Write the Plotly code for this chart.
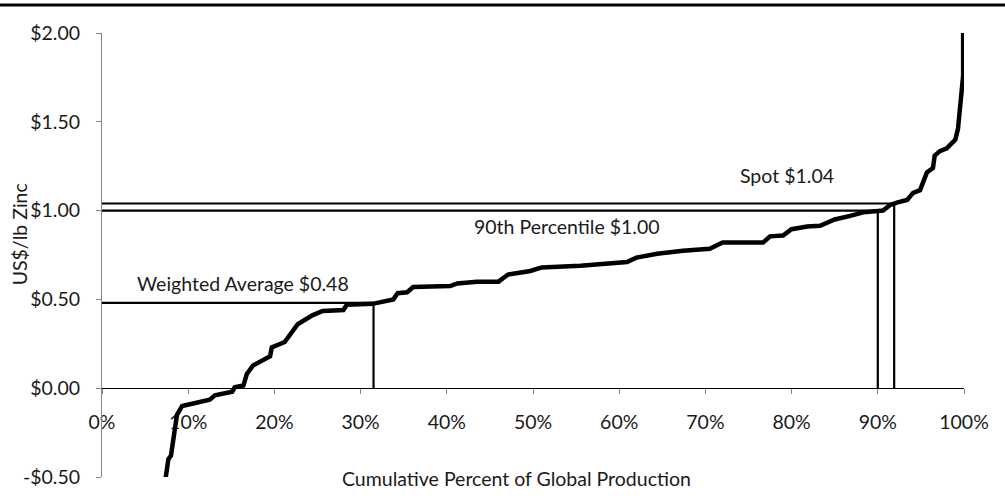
import plotly.graph_objects as go

# ---- data ----
curve_pct = [7.25, 7.7, 8.0, 8.35, 8.7, 9.3, 10.2, 12.5, 13.1, 15.1, 15.4, 16.4, 16.8, 17.5,
             19.5, 19.7, 21.2, 22.7, 24.4, 25.6, 28.0, 28.4, 31.4, 33.8, 34.3, 35.4, 36.1,
             40.4, 41.2, 43.5, 46.0, 47.1, 49.7, 51.0, 55.5, 60.9, 62.0, 64.4, 67.4, 70.5,
             72.0, 76.7, 77.5, 79.0, 80.0, 81.8, 83.3, 85.0, 86.8, 88.3, 90.6, 91.4, 92.2,
             93.4, 94.1, 94.9, 95.7, 96.4, 96.6, 97.2, 98.0, 99.0, 99.3, 99.5, 99.9, 99.9]
curve_cost = [-0.55, -0.40, -0.38, -0.25, -0.15, -0.10, -0.09, -0.065, -0.04, -0.02, 0.005,
              0.015, 0.08, 0.127, 0.18, 0.23, 0.26, 0.36, 0.41, 0.435, 0.44, 0.47, 0.475,
              0.50, 0.535, 0.54, 0.57, 0.575, 0.59, 0.60, 0.60, 0.64, 0.66, 0.68, 0.69, 0.71,
              0.735, 0.757, 0.774, 0.785, 0.82, 0.82, 0.855, 0.86, 0.895, 0.91, 0.915, 0.95,
              0.97, 0.99, 1.0, 1.03, 1.045, 1.06, 1.10, 1.115, 1.215, 1.24, 1.31, 1.335, 1.35,
              1.40, 1.46, 1.56, 1.76, 2.0]

ref_labels = ["Weighted Average $0.48", "90th Percentile $1.00", "Spot $1.04"]
ref_values = [0.48, 1.00, 1.04]
ref_pcts = [31.5, 90.0, 91.9]

x_tick_vals = [0, 10, 20, 30, 40, 50, 60, 70, 80, 90, 100]
x_tick_text = ["0%", "10%", "20%", "30%", "40%", "50%", "60%", "70%", "80%", "90%", "100%"]
y_tick_vals = [-0.5, 0.0, 0.5, 1.0, 1.5, 2.0]
y_tick_text = ["-$0.50", "$0.00", "$0.50", "$1.00", "$1.50", "$2.00"]

x_title = "Cumulative Percent of Global Production"
y_title = "US$/lb Zinc"

FONT = "Lato, Calibri, Carlito, sans-serif"
FS = 19.5
TXT = "#1a1a1a"

fig = go.Figure()

# reference lines (horizontal to the curve, vertical down to zero)
for lbl, v, p in zip(ref_labels, ref_values, ref_pcts):
    fig.add_trace(go.Scatter(x=[0, p, p], y=[v, v, 0], mode="lines",
                             line=dict(color="black", width=2.2), hoverinfo="skip",
                             showlegend=False))

# cost curve
fig.add_trace(go.Scatter(x=curve_pct, y=curve_cost, mode="lines",
                         line=dict(color="black", width=4.5), showlegend=False))

label_pos = [(16.3, 0.59), (54.0, 0.91), (79.5, 1.20)]
annotations = []
for lbl, (ax, ay) in zip(ref_labels, label_pos):
    annotations.append(dict(x=ax, y=ay, xref="x", yref="y", text=lbl, showarrow=False,
                            font=dict(family=FONT, size=FS, color=TXT)))

annotations.append(dict(x=0, y=(485 - 238) / 452, xref="paper", yref="paper", xshift=-83,
                        xanchor="center", yanchor="middle",
                        text=y_title, textangle=-90, showarrow=False,
                        font=dict(family=FONT, size=FS, color=TXT)))
annotations.append(dict(x=(516 - 102) / 862, y=(485 - 487) / 452, xref="paper", yref="paper",
                        xanchor="center", yanchor="middle", text=x_title, showarrow=False,
                        font=dict(family=FONT, size=FS, color=TXT)))

fig.update_layout(
    width=1005, height=500,
    margin=dict(l=102, r=41, t=33, b=15),
    paper_bgcolor="white", plot_bgcolor="white",
    font=dict(family=FONT, size=FS, color=TXT),
    annotations=annotations,
    hovermode=False,
    shapes=[dict(type="line", xref="paper", yref="paper",
                 x0=-102 / 862, x1=903 / 862, y0=(485 - 4.5) / 452, y1=(485 - 4.5) / 452,
                 line=dict(color="black", width=3))],
    xaxis=dict(range=[0, 100], anchor="free", position=0.2, showgrid=False, zeroline=False,
               showline=True, linecolor="black", linewidth=1,
               ticks="outside", ticklen=5, tickcolor="#868686",
               tickvals=x_tick_vals, ticktext=x_tick_text, ticklabelstandoff=11,
               layer="below traces"),
    yaxis=dict(range=[-0.5, 2.0], showgrid=False, zeroline=False,
               showline=True, linecolor="#868686", linewidth=1,
               ticks="outside", ticklen=5, tickcolor="#868686",
               tickvals=y_tick_vals, ticktext=y_tick_text, ticklabelstandoff=12),
)

fig.write_html("out.html", config={"displayModeBar": False},
               post_script="document.body.style.margin='0';")
